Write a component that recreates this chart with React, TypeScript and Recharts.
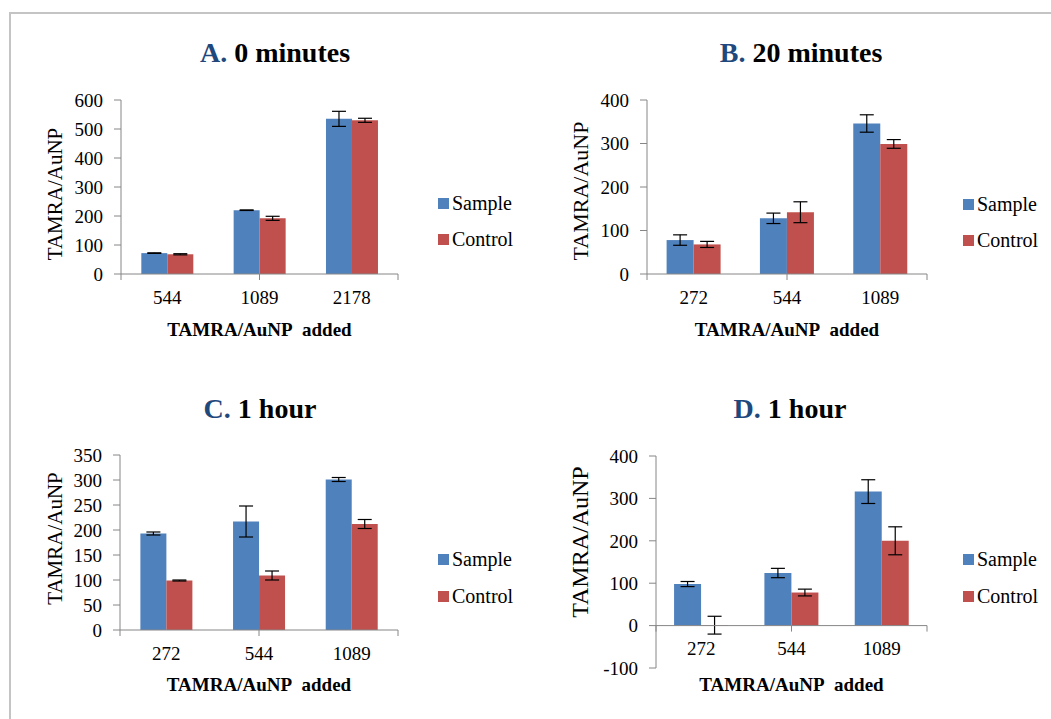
import React from "react";
import {
  BarChart,
  Bar,
  XAxis,
  YAxis,
  ErrorBar,
  ReferenceLine,
  ReferenceDot,
} from "recharts";

// values
const catsA = ["544", "1089", "2178"];
const sampleA = [72, 220, 535];
const sampleErrA = [1, 1, 26];
const controlA = [68, 192, 530];
const controlErrA = [2, 7, 7];
const ticksA = [0, 100, 200, 300, 400, 500, 600];

const catsB = ["272", "544", "1089"];
const sampleB = [78, 128, 346];
const sampleErrB = [12, 12, 20];
const controlB = [68, 142, 299];
const controlErrB = [7, 24, 10];
const ticksB = [0, 100, 200, 300, 400];

const catsC = ["272", "544", "1089"];
const sampleC = [193, 217, 301];
const sampleErrC = [3, 31, 4];
const controlC = [99, 109, 212];
const controlErrC = [1, 9, 9];
const ticksC = [0, 50, 100, 150, 200, 250, 300, 350];

const catsD = ["272", "544", "1089"];
const sampleD = [98, 124, 316];
const sampleErrD = [6, 11, 28];
const controlD = [1, 78, 200];
const controlErrD = [21, 8, 33];
const ticksD = [-100, 0, 100, 200, 300, 400];

const SERIF =
  '"Liberation Serif", Tinos, "Times New Roman", Times, "DejaVu Serif", serif';
const BLUE = "#4F81BD";
const RED = "#C0504D";
const AXIS = "#868686";
const TITLE_BLUE = "#1F497D";

interface PanelProps {
  left: number;
  top: number;
  width: number;
  height: number;
  marginTop: number;
  xAxisHeight: number;
  gap: string;
  cats: string[];
  sample: number[];
  sampleErr: number[];
  control: number[];
  controlErr: number[];
  yTicks: number[];
  yLabelX: number;
  yLabelShift: number;
  yLabelSize: number;
  zeroAxis?: boolean;
}

function Panel(p: PanelProps) {
  const rows = p.cats.map((c, i) => ({
    cat: c,
    sample: p.sample[i],
    sampleErr: p.sampleErr[i],
    control: p.control[i],
    controlErr: p.controlErr[i],
  }));
  const lo = p.yTicks[0];
  const hi = p.yTicks[p.yTicks.length - 1];
  const bounds = p.cats.map((_, i) => i).concat([p.cats.length]);
  // x-axis tick marks sit on the base line (zero for panel D)
  const base = p.zeroAxis ? 0 : lo;
  const plotH = p.height - p.marginTop - 5 - p.xAxisHeight;
  const tickUnits = ((hi - lo) * 6) / plotH;

  return (
    <div
      style={{
        position: "absolute",
        left: p.left,
        top: p.top,
        fontFamily: SERIF,
      }}
    >
      <BarChart
        width={p.width}
        height={p.height}
        data={rows}
        margin={{ top: p.marginTop, right: 10, bottom: 5, left: 0 }}
        barCategoryGap={p.gap}
        barGap={0}
        style={{ fontFamily: SERIF }}
      >
        <XAxis
          xAxisId="c"
          dataKey="cat"
          axisLine={p.zeroAxis ? false : { stroke: AXIS }}
          tickLine={false}
          tickSize={6}
          tickMargin={11}
          interval={0}
          tick={
            p.zeroAxis
              ? false
              : { fill: "#000", fontSize: 19, fontFamily: SERIF }
          }
          height={p.xAxisHeight}
          label={{
            value: "TAMRA/AuNP\u00A0 added",
            position: "insideBottom",
            offset: 3,
            fontSize: 19,
            fontWeight: "bold",
            fontFamily: SERIF,
            fill: "#000",
          }}
        />
        <XAxis
          xAxisId="n"
          type="number"
          domain={[0, p.cats.length]}
          ticks={bounds}
          hide
          allowDataOverflow
        />
        <YAxis
          width={91}
          domain={[lo, hi]}
          ticks={p.yTicks}
          interval={0}
          tickSize={7}
          tickMargin={11}
          stroke={AXIS}
          tick={{ fill: "#000", fontSize: 19, fontFamily: SERIF }}
          label={(lp: any) => {
            const vb = lp.viewBox;
            const cx = vb.x + p.yLabelX;
            const cy = vb.y + vb.height / 2 + p.yLabelShift;
            return (
              <text
                x={cx}
                y={cy}
                transform={`rotate(-90 ${cx} ${cy})`}
                textAnchor="middle"
                dominantBaseline="central"
                fontSize={p.yLabelSize}
                fontFamily={SERIF}
                fill="#000"
              >
                TAMRA/AuNP
              </text>
            );
          }}
        />
        <Bar
          xAxisId="c"
          dataKey="sample"
          fill={BLUE}
          isAnimationActive={false}
        >
          <ErrorBar
            dataKey="sampleErr"
            width={7}
            stroke="#000"
            strokeWidth={1.2}
            direction="y"
          />
        </Bar>
        <Bar
          xAxisId="c"
          dataKey="control"
          fill={RED}
          isAnimationActive={false}
        >
          <ErrorBar
            dataKey="controlErr"
            width={7}
            stroke="#000"
            strokeWidth={1.2}
            direction="y"
          />
        </Bar>
        {p.zeroAxis && (
          <ReferenceLine xAxisId="n" y={0} stroke={AXIS} strokeWidth={1} />
        )}
        {bounds.map((b) => (
          <ReferenceLine
            key={`xt-${b}`}
            xAxisId="n"
            ifOverflow="visible"
            segment={[
              { x: b, y: base },
              { x: b, y: base - tickUnits },
            ]}
            stroke={AXIS}
          />
        ))}
        {p.zeroAxis &&
          p.cats.map((c) => (
            <ReferenceDot
              key={`zl-${c}`}
              xAxisId="c"
              x={c}
              y={0}
              r={0}
              stroke="none"
              fill="none"
              label={{
                value: c,
                position: "bottom",
                offset: 16,
                fontSize: 19,
                fontFamily: SERIF,
                fill: "#000",
              }}
            />
          ))}
      </BarChart>
    </div>
  );
}

function LegendBox({ left, top, step }: { left: number; top: number; step: number }) {
  const items = [
    { name: "Sample", color: BLUE },
    { name: "Control", color: RED },
  ];
  return (
    <>
      {items.map((it, i) => (
        <div
          key={it.name}
          style={{
            position: "absolute",
            left,
            top: top + i * step - 12,
            height: 24,
            display: "flex",
            alignItems: "center",
            fontFamily: SERIF,
            fontSize: 20,
            color: "#000",
            whiteSpace: "nowrap",
          }}
        >
          <span
            style={{
              display: "inline-block",
              width: 11,
              height: 11,
              background: it.color,
              marginRight: 3,
            }}
          />
          {it.name}
        </div>
      ))}
    </>
  );
}

function Title({ x, y, letter, text }: { x: number; y: number; letter: string; text: string }) {
  return (
    <text
      x={x}
      y={y}
      textAnchor="middle"
      fontFamily={SERIF}
      fontWeight="bold"
      fontSize={28}
      fill="#000"
    >
      <tspan fill={TITLE_BLUE}>{letter}</tspan>
      <tspan>{" " + text}</tspan>
    </text>
  );
}

export default function App() {
  return (
    <div
      style={{
        position: "absolute",
        left: 0,
        top: 0,
        width: 1051,
        height: 719,
        overflow: "hidden",
        background: "#fff",
        fontFamily: SERIF,
      }}
    >
      <div
        style={{
          position: "absolute",
          left: 9,
          top: 12,
          width: 1200,
          height: 900,
          borderTop: "2px solid #c4c4c4",
          borderLeft: "2px solid #c4c4c4",
        }}
      />
      <svg
        width={1051}
        height={719}
        style={{ position: "absolute", left: 0, top: 0, pointerEvents: "none" }}
      >
        <Title x={275} y={62} letter="A." text="0 minutes" />
        <Title x={801} y={62} letter="B." text="20 minutes" />
        <Title x={260} y={418} letter="C." text="1 hour" />
        <Title x={790} y={418} letter="D." text="1 hour" />
      </svg>

      <Panel
        left={30}
        top={85}
        width={378}
        height={259}
        marginTop={15}
        xAxisHeight={65}
        gap="22%"
        cats={catsA}
        sample={sampleA}
        sampleErr={sampleErrA}
        control={controlA}
        controlErr={controlErrA}
        yTicks={ticksA}
        yLabelX={25}
        yLabelShift={7}
        yLabelSize={21}
      />
      <LegendBox left={438} top={203} step={36} />

      <Panel
        left={556}
        top={85}
        width={381}
        height={259}
        marginTop={15}
        xAxisHeight={65}
        gap="21%"
        cats={catsB}
        sample={sampleB}
        sampleErr={sampleErrB}
        control={controlB}
        controlErr={controlErrB}
        yTicks={ticksB}
        yLabelX={24}
        yLabelShift={4}
        yLabelSize={22}
      />
      <LegendBox left={963} top={204} step={36} />

      <Panel
        left={29}
        top={440}
        width={379}
        height={259}
        marginTop={15}
        xAxisHeight={64}
        gap="22%"
        cats={catsC}
        sample={sampleC}
        sampleErr={sampleErrC}
        control={controlC}
        controlErr={controlErrC}
        yTicks={ticksC}
        yLabelX={26}
        yLabelShift={-4}
        yLabelSize={21}
      />
      <LegendBox left={438} top={559} step={37} />

      <Panel
        left={565}
        top={440}
        width={372}
        height={259}
        marginTop={16}
        xAxisHeight={26}
        gap="20%"
        cats={catsD}
        sample={sampleD}
        sampleErr={sampleErrD}
        control={controlD}
        controlErr={controlErrD}
        yTicks={ticksD}
        yLabelX={15}
        yLabelShift={-20}
        yLabelSize={24}
        zeroAxis
      />
      <LegendBox left={963} top={559} step={37} />
    </div>
  );
}
